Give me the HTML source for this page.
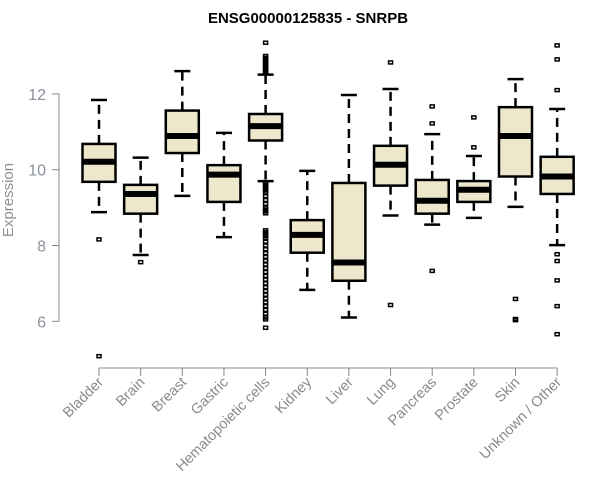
<!DOCTYPE html>
<html><head><meta charset="utf-8"><style>
body{margin:0;background:#fff;}
svg{display:block;font-family:"Liberation Sans",Arial,sans-serif;}
</style></head><body>
<svg id="chart" width="600" height="500" viewBox="0 0 600 500">
<text x="308" y="23" text-anchor="middle" font-weight="bold" font-size="15" fill="#000">ENSG00000125835 - SNRPB</text>
<text transform="translate(13,200) rotate(-90)" text-anchor="middle" font-size="15" fill="#909090">Expression</text>
<g id="axes"></g><g id="boxes"></g>
</svg>
<script>
const categories=["Bladder","Brain","Breast","Gastric","Hematopoietic cells","Kidney","Liver","Lung","Pancreas","Prostate","Skin","Unknown / Other"];
const whiskerLow=[8.88,7.75,9.31,8.22,9.7,6.83,6.1,8.79,8.55,8.73,9.02,8.01];
const q1=[9.68,8.84,10.44,9.15,10.77,7.81,7.07,9.58,8.84,9.15,9.82,9.36];
const medians=[10.21,9.36,10.89,9.87,11.15,8.28,7.55,10.13,9.18,9.47,10.89,9.82];
const q3=[10.68,9.6,11.56,10.12,11.47,8.67,9.65,10.63,9.73,9.7,11.65,10.34];
const whiskerHigh=[11.84,10.32,12.6,10.97,12.51,9.97,11.97,12.13,10.94,10.36,12.39,11.6];
const outliers=[[8.16,5.08],[7.56],[],[],[13.35,13.0,12.95,12.9,12.85,12.8,12.75,12.7,12.65,12.6,12.55,9.65,9.6,9.55,9.5,9.45,9.4,9.3,9.2,9.1,9.0,8.95,8.9,8.85,8.4,8.35,8.3,8.25,8.2,8.1,8.0,7.9,7.8,7.7,7.6,7.5,7.4,7.3,7.2,7.1,7.0,6.9,6.8,6.7,6.6,6.5,6.4,6.3,6.2,6.1,6.05,5.83],[],[],[12.83,6.43],[11.67,11.22,7.33],[11.38,10.59],[6.59,6.06,6.03],[13.28,12.91,12.1,7.77,7.59,7.08,6.4,5.66]];
const yTicks=[6,8,10,12];
const NS="http://www.w3.org/2000/svg";
function y(v){return 169.7-(v-10)*37.9;}
function x(i){return 99+i*41.65;}
function mk(parent,tag,attrs){const e=document.createElementNS(NS,tag);for(const k in attrs)e.setAttribute(k,attrs[k]);parent.appendChild(e);return e;}
const ax=document.getElementById('axes'),bx=document.getElementById('boxes');
let e=mk(ax,'line',{x1:59,x2:59,y1:y(12),y2:y(6),stroke:'#888','stroke-width':1});


yTicks.forEach(t=>{
 let l=mk(ax,'line',{x1:52,x2:59,y1:y(t),y2:y(t),stroke:'#888'});
 
 
 let tx=mk(ax,'text',{x:46,y:y(t)+6,'text-anchor':'end','font-size':16,fill:'#8a929c'});
 tx.textContent=t;
 
 
});
e=mk(ax,'line',{x1:x(0),x2:x(11),y1:368,y2:368,stroke:'#888'});


categories.forEach((c,i)=>{
 let l=mk(ax,'line',{x1:x(i),x2:x(i),y1:368,y2:376,stroke:'#888'});
 
 
 let tx=mk(ax,'text',{transform:`translate(${x(i)+5},383) rotate(-45)`,'text-anchor':'end','font-size':14.5,fill:'#8a8a8a'});
 tx.textContent=c;
 
 
 const g=mk(bx,'g',{});
 
 
 const cx=x(i),hw=16.5,cap=8;
 mk(g,'line',{x1:cx,x2:cx,y1:y(q3[i]),y2:y(whiskerHigh[i]),stroke:'#000','stroke-width':2.5,'stroke-dasharray':'9,6'});
 mk(g,'line',{x1:cx,x2:cx,y1:y(q1[i]),y2:y(whiskerLow[i]),stroke:'#000','stroke-width':2.5,'stroke-dasharray':'9,6'});
 mk(g,'line',{x1:cx-cap,x2:cx+cap,y1:y(whiskerHigh[i]),y2:y(whiskerHigh[i]),stroke:'#000','stroke-width':2.5});
 mk(g,'line',{x1:cx-cap,x2:cx+cap,y1:y(whiskerLow[i]),y2:y(whiskerLow[i]),stroke:'#000','stroke-width':2.5});
 mk(g,'rect',{x:cx-hw,y:y(q3[i]),width:2*hw,height:y(q1[i])-y(q3[i]),fill:'#ede7cc',stroke:'#000','stroke-width':2.5});
 mk(g,'line',{x1:cx-hw,x2:cx+hw,y1:y(medians[i]),y2:y(medians[i]),stroke:'#000','stroke-width':6});
 outliers[i].forEach(v=>{
  let p=mk(g,'rect',{x:cx-2,y:y(v)-1.5,width:4,height:3,fill:'none',stroke:'#000','stroke-width':1.5});
  
  
 });
});
</script>
</body></html>
